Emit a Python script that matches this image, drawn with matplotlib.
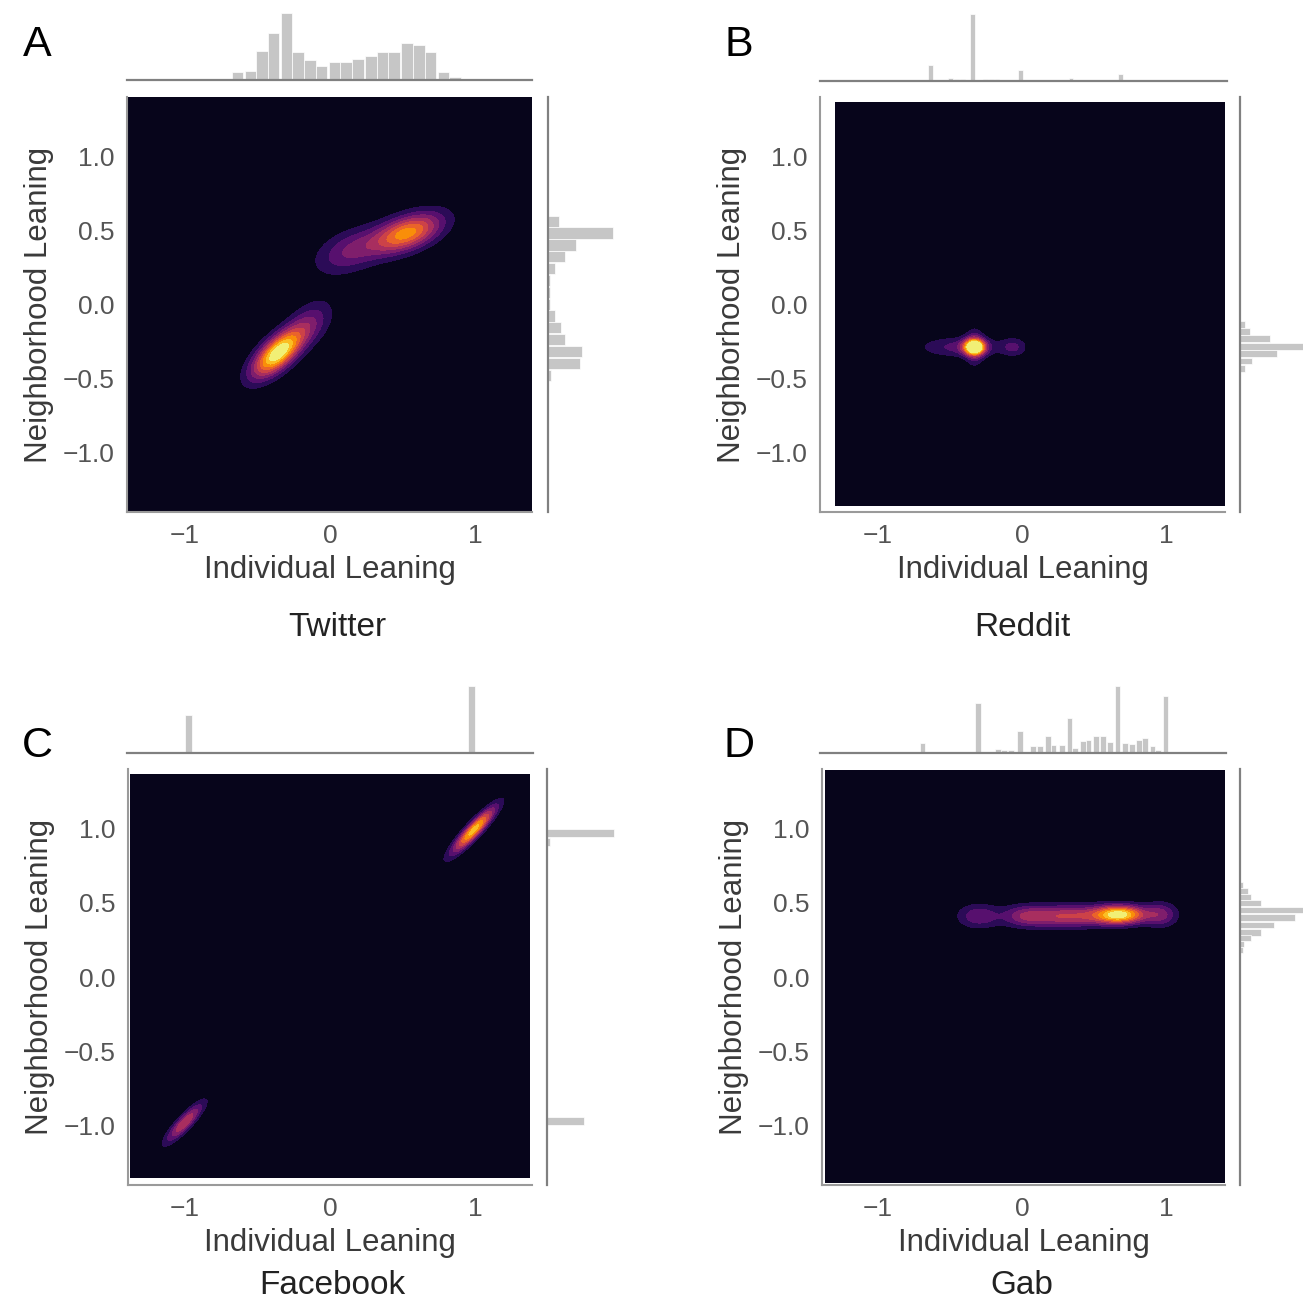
"""
Joint KDE plots of individual vs neighborhood leaning (Twitter / Reddit / Facebook / Gab)
- main: filled KDE (inferno), marginals: histograms
"""
import numpy as np
import matplotlib
matplotlib.use('Agg')
import matplotlib.pyplot as plt

plt.rcParams['font.family'] = ['Liberation Sans', 'DejaVu Sans']

FIG_PX = 1303.0
HIST_COLOR = '#c6c6c6'
SPINE_COLOR = '#808080'
TICK_COLOR = '#555555'
LABEL_COLOR = '#3a3a3a'

PANEL_NAMES = ['Twitter', 'Reddit', 'Facebook', 'Gab']
PANEL_LETTERS = ['A', 'B', 'C', 'D']
X_TICKS = [-1, 0, 1]
Y_TICKS = [-1.0, -0.5, 0.0, 0.5, 1.0]

# --- density components: centre x, centre y, major sd, minor sd, angle (deg), peak weight
tw_cx = [-0.36, -0.14, 0.53, 0.14]
tw_cy = [-0.33, -0.13, 0.48, 0.36]
tw_smaj = [0.15, 0.13, 0.17, 0.17]
tw_smin = [0.065, 0.08, 0.075, 0.09]
tw_ang = [42, 45, 20, 22]
tw_w = [1.0, 0.24, 0.74, 0.3]

rd_cx = [-0.33, -0.42, -0.33, -0.06]
rd_cy = [-0.29, -0.29, -0.29, -0.29]
rd_smaj = [0.05, 0.19, 0.085, 0.06]
rd_smin = [0.035, 0.045, 0.042, 0.042]
rd_ang = [0, 0, 90, 0]
rd_w = [0.95, 0.24, 0.26, 0.2]

fb_cx = [0.99, -1.0]
fb_cy = [0.99, -0.98]
fb_smaj = [0.14, 0.12]
fb_smin = [0.03, 0.03]
fb_ang = [46, 46]
fb_w = [0.85, 0.5]

gb_cx = [0.68, 0.32, -0.3, 0.96, 0.02]
gb_cy = [0.42, 0.41, 0.41, 0.42, 0.41]
gb_smaj = [0.12, 0.2, 0.1, 0.08, 0.11]
gb_smin = [0.042, 0.05, 0.055, 0.055, 0.05]
gb_ang = [0, 0, 0, 0, 0]
gb_w = [0.9, 0.5, 0.28, 0.32, 0.28]

# --- marginal histograms (bin centre, height)
tw_top_x = [-0.64, -0.55, -0.47, -0.39, -0.30, -0.22, -0.14, -0.06, 0.03, 0.11,
            0.19, 0.28, 0.36, 0.44, 0.53, 0.61, 0.69, 0.78, 0.86]
tw_top_h = [8, 9, 29, 47, 67, 28, 20, 14, 18, 18, 21, 24, 28, 28, 37, 35, 28, 8, 3]
tw_right_y = [-0.48, -0.40, -0.32, -0.24, -0.16, -0.08, 0.0, 0.08, 0.16, 0.24,
              0.32, 0.40, 0.48, 0.56]
tw_right_h = [3, 32, 34, 17, 13, 7, 2, 2, 2, 7, 17, 28, 65, 11]

rd_top_x = [-0.64, -0.50, -0.46, -0.42, -0.35, -0.26, -0.22, -0.18, -0.14, -0.02,
            0.22, 0.33, 0.67, 0.99]
rd_top_h = [16, 3, 2, 2, 67, 2, 2, 2, 1, 11, 1, 3, 7, 1]
rd_right_y = [-0.14, -0.185, -0.235, -0.285, -0.335, -0.385, -0.435]
rd_right_h = [5, 10, 30, 66, 37, 12, 5]

fb_top_x = [-0.97, 0.97]
fb_top_h = [38, 67]
fb_right_y = [0.97, 0.91, -0.97]
fb_right_h = [66, 3, 36]

gb_top_x = [-0.68, -0.30, -0.16, -0.12, -0.07, -0.01, 0.04, 0.08, 0.13, 0.18,
            0.22, 0.28, 0.33, 0.37, 0.42, 0.46, 0.51, 0.56, 0.61, 0.66,
            0.71, 0.76, 0.81, 0.85, 0.90, 0.94, 0.99]
gb_top_h = [10, 50, 4, 3, 3, 22, 1, 7, 7, 17, 8, 8, 35, 5, 12, 13, 17, 17, 11, 67,
            10, 9, 13, 15, 7, 3, 57]
gb_right_y = [0.62, 0.58, 0.54, 0.50, 0.45, 0.40, 0.35, 0.30, 0.26, 0.22, 0.18]
gb_right_h = [3, 8, 11, 21, 65, 55, 34, 21, 11, 4, 3]

# --- layout in pixels: (left, top, right, bottom)
PANELS = [
    dict(main=(127, 97, 532, 512), top=(127, 10, 532, 80), right=(548, 97, 620, 512),
         xlim=(-1.40, 1.39), ylim=(-1.405, 1.40), grid=(-1.40, 1.39, -1.405, 1.40),
         letter=(37, 45), name=(337, 627), bw_top=0.08, bw_right=0.076,
         comps=(tw_cx, tw_cy, tw_smaj, tw_smin, tw_ang, tw_w),
         hist=(tw_top_x, tw_top_h, tw_right_y, tw_right_h)),
    dict(main=(820, 97, 1225, 512), top=(820, 11, 1227, 81), right=(1240, 97, 1312, 512),
         xlim=(-1.40, 1.405), ylim=(-1.405, 1.40), grid=(-1.29, 1.405, -1.36, 1.36),
         letter=(739, 45), name=(1022, 627), bw_top=0.033, bw_right=0.046,
         comps=(rd_cx, rd_cy, rd_smaj, rd_smin, rd_ang, rd_w),
         hist=(rd_top_x, rd_top_h, rd_right_y, rd_right_h)),
    dict(main=(128, 769, 532, 1185), top=(127, 683, 533, 753), right=(547, 769, 620, 1185),
         xlim=(-1.39, 1.39), ylim=(-1.40, 1.40), grid=(-1.37, 1.37, -1.35, 1.36),
         letter=(37, 746), name=(332, 1286), bw_top=0.05, bw_right=0.05,
         comps=(fb_cx, fb_cy, fb_smaj, fb_smin, fb_ang, fb_w),
         hist=(fb_top_x, fb_top_h, fb_right_y, fb_right_h)),
    dict(main=(822, 769, 1225, 1185), top=(820, 683, 1226, 753), right=(1240, 769, 1312, 1185),
         xlim=(-1.384, 1.405), ylim=(-1.40, 1.40), grid=(-1.36, 1.405, -1.38, 1.39),
         letter=(739, 746), name=(1022, 1286), bw_top=0.04, bw_right=0.042,
         comps=(gb_cx, gb_cy, gb_smaj, gb_smin, gb_ang, gb_w),
         hist=(gb_top_x, gb_top_h, gb_right_y, gb_right_h)),
]


def px_axes(fig, box):
    l, t, r, b = box
    return fig.add_axes([l / FIG_PX, 1 - b / FIG_PX, (r - l) / FIG_PX, (b - t) / FIG_PX])


def density(X, Y, cx, cy, smaj, smin, ang, w):
    Z = np.zeros_like(X)
    for x0, y0, s1, s2, a, wt in zip(cx, cy, smaj, smin, ang, w):
        th = np.deg2rad(a)
        dx, dy = X - x0, Y - y0
        u = dx * np.cos(th) + dy * np.sin(th)
        v = -dx * np.sin(th) + dy * np.cos(th)
        Z += wt * np.exp(-0.5 * ((u / s1) ** 2 + (v / s2) ** 2))
    return Z


fig = plt.figure(figsize=(FIG_PX / 100, FIG_PX / 100), dpi=100)
levels = np.linspace(0, 1.0, 11)
cmap = plt.get_cmap('inferno')

for p, name, letter in zip(PANELS, PANEL_NAMES, PANEL_LETTERS):
    # main KDE
    ax = px_axes(fig, p['main'])
    gx0, gx1, gy0, gy1 = p['grid']
    X, Y = np.meshgrid(np.linspace(gx0, gx1, 400), np.linspace(gy0, gy1, 400))
    Z = np.clip(density(X, Y, *p['comps']), 0, 1.0)
    ax.contourf(X, Y, Z, levels=levels, cmap=cmap, vmin=0, vmax=1.0)
    ax.set_xlim(*p['xlim'])
    ax.set_ylim(*p['ylim'])
    ax.set_xticks(X_TICKS)
    ax.set_xticklabels([f'{t:d}'.replace('-', '\u2212') for t in X_TICKS])
    ax.set_yticks(Y_TICKS)
    ax.set_yticklabels([f'{t:.1f}'.replace('-', '\u2212') for t in Y_TICKS])
    ax.tick_params(length=0, pad=9, labelsize=19, colors=TICK_COLOR)
    for s in ['top', 'right']:
        ax.spines[s].set_visible(False)
    for s in ['left', 'bottom']:
        ax.spines[s].set_color('#9a9a9a')
        ax.spines[s].set_linewidth(1.5)
    ax.set_xlabel('Individual Leaning', fontsize=22.5, color=LABEL_COLOR, labelpad=5)
    ax.set_ylabel('Neighborhood Leaning', fontsize=22.5, color=LABEL_COLOR, labelpad=6)

    top_x, top_h, right_y, right_h = p['hist']
    # top marginal
    axt = px_axes(fig, p['top'])
    axt.bar(top_x, top_h, width=p['bw_top'], color=HIST_COLOR, edgecolor='white', linewidth=0.5)
    axt.set_xlim(*p['xlim'])
    axt.set_ylim(0, 70)
    axt.set_xticks([])
    axt.set_yticks([])
    for s in ['top', 'right', 'left']:
        axt.spines[s].set_visible(False)
    axt.spines['bottom'].set_color(SPINE_COLOR)
    axt.spines['bottom'].set_linewidth(1.6)
    axt.patch.set_alpha(0)

    # right marginal
    axr = px_axes(fig, p['right'])
    axr.barh(right_y, right_h, height=p['bw_right'], color=HIST_COLOR, edgecolor='white', linewidth=0.5)
    axr.set_ylim(*p['ylim'])
    axr.set_xlim(0, 72)
    axr.set_xticks([])
    axr.set_yticks([])
    for s in ['top', 'right', 'bottom']:
        axr.spines[s].set_visible(False)
    axr.spines['left'].set_color(SPINE_COLOR)
    axr.spines['left'].set_linewidth(1.6)
    axr.patch.set_alpha(0)

    lx, ly = p['letter']
    fig.text(lx / FIG_PX, 1 - ly / FIG_PX, letter, fontsize=31, ha='center', va='center', color='black')
    nx, ny = p['name']
    fig.text(nx / FIG_PX, 1 - ny / FIG_PX, name, fontsize=24, ha='center', va='center', color='#222222')

plt.savefig('out.png', dpi=100)
plt.close()
